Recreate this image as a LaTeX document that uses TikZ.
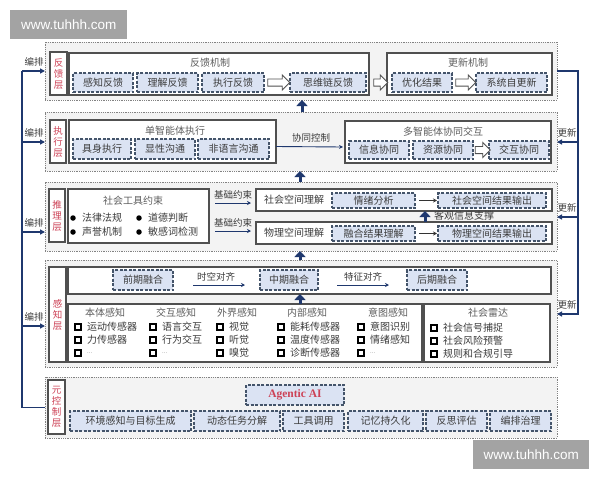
\documentclass[tikz,border=0pt]{standalone}
\usepackage{fontspec}
\setmainfont{Liberation Serif}
\newfontfamily\cjk{Noto Sans CJK SC}
\newfontfamily\wmfont{Liberation Sans}
\usetikzlibrary{arrows.meta,shapes.arrows,calc}
\definecolor{outfill}{RGB}{243,243,243}
\definecolor{outdraw}{RGB}{130,130,130}
\definecolor{boxdraw}{RGB}{80,80,80}
\definecolor{dfill}{RGB}{219,227,243}
\definecolor{ddraw}{RGB}{68,84,106}
\definecolor{txt}{RGB}{60,60,60}
\definecolor{ttlc}{RGB}{95,95,95}
\definecolor{lred}{RGB}{205,65,85}
\definecolor{navy}{RGB}{31,56,110}
\definecolor{wmgray}{RGB}{163,163,163}
\newcommand{\bx}[7]{\node[#1, anchor=north west, minimum width={(#5)-(#3)}, minimum height={(#6)-(#4)}] (#2) at (#3,#4) {#7};}
\newcommand{\li}[5]{\node[#1] (#2m) at (#3,#4) {}; \node[itm] (#2t) at (#3+9,#4) {#5};}
\newcommand{\eldots}{\textcolor{gray}{\fontsize{6}{7}\selectfont ...}}
\begin{document}
\begin{tikzpicture}[x=1pt,y=-1pt,
  outer/.style={draw=outdraw, fill=outfill, densely dotted, line width=0.8pt, inner sep=0pt, outer sep=0pt},
  labbox/.style={draw=boxdraw, fill=white, line width=1.2pt, inner sep=0pt, outer sep=0pt, text=lred, font=\cjk\fontsize{9.5}{11}\selectfont, align=center},
  wbox/.style={draw=boxdraw, fill=white, line width=1.1pt, inner sep=0pt, outer sep=0pt},
  dbox/.style={draw=ddraw, fill=dfill, dash pattern=on 3pt off 1.5pt, line width=1.2pt, inner sep=0pt, outer sep=0pt, text=txt, font=\cjk\fontsize{10}{12}\selectfont},
  ttl/.style={text=ttlc, font=\cjk\fontsize{10}{12}\selectfont, inner sep=0pt},
  lbl/.style={text=txt, font=\cjk\fontsize{9.5}{11}\selectfont, inner sep=0pt},
  itm/.style={text=txt, font=\cjk\fontsize{10}{12}\selectfont, inner sep=0pt, anchor=west},
  chk/.style={draw=black, line width=1.1pt, minimum size=6pt, inner sep=0pt},
  bul/.style={circle, fill=black, minimum size=5.5pt, inner sep=0pt},
  hollow/.style={single arrow, draw=boxdraw, fill=white, line width=0.8pt, inner xsep=0pt, inner ysep=3.2pt, single arrow head extend=4pt},
  narr/.style={draw=navy, line width=0.9pt, -{Stealth[length=4pt,width=4pt]}},
  garr/.style={draw=black!80, line width=0.9pt, -{Stealth[length=4pt,width=4pt]}},
  bigarr/.style={draw=navy, line width=3pt, -{Triangle[length=6pt,width=11pt]}},
  nline/.style={draw=navy, line width=1.6pt},
  narrow/.style={draw=navy, line width=1.6pt, -{Triangle[length=5pt,width=5pt]}},
  wm/.style={fill=wmgray, text=white, font=\wmfont\fontsize{13.5}{15}\selectfont, inner sep=0pt}
]
\fill[white] (0,0) rectangle (600,480);
\useasboundingbox (0,0) rectangle (600,480);

% watermarks
\bx{wm}{wm1}{10}{10}{127}{39}{www.tuhhh.com}
\bx{wm}{wm2}{473}{440}{589}{469}{www.tuhhh.com}

% ===== Layer 1: feedback
\bx{outer}{L1}{45}{42}{557}{100}{}
\bx{labbox}{lab1}{50}{52}{67}{95}{反\\馈\\层}
\bx{wbox}{fbc}{69}{53}{369}{95}{}
\node[ttl] (fbt) at (210,63) {反馈机制};
\bx{dbox}{fk1}{73}{73}{133}{92}{感知反馈}
\bx{dbox}{fk2}{137}{73}{198}{92}{理解反馈}
\bx{dbox}{fk3}{202}{73}{264}{92}{执行反馈}
\bx{dbox}{fk4}{290}{73}{366}{92}{思维链反馈}
\node[hollow, minimum height=22pt] (ha1) at ($(fk3.east)!0.5!(fk4.west)$) {};
\bx{wbox}{upc}{387}{53}{552}{95}{}
\node[ttl] (upt) at (468,63) {更新机制};
\bx{dbox}{up1}{392}{73}{452}{92}{优化结果}
\bx{dbox}{up2}{476}{73}{547}{92}{系统自更新}
\node[hollow, minimum height=14pt] (ha2) at ($(fk4.east)!0.5!(up1.west)$) {};
\node[hollow, minimum height=20pt] (ha3) at ($(up1.east)!0.5!(up2.west)$) {};

% ===== Layer 2: execution
\bx{outer}{L2}{45}{112}{557}{171}{}
\bx{labbox}{lab2}{50}{120}{66}{163}{执\\行\\层}
\bx{wbox}{sgl}{69}{120}{276}{163}{}
\node[ttl] (sglt) at (175,131) {单智能体执行};
\bx{dbox}{ex1}{73}{139}{131}{159}{具身执行}
\bx{dbox}{ex2}{135}{139}{195}{159}{显性沟通}
\bx{dbox}{ex3}{198}{139}{269}{159}{非语言沟通}
\bx{wbox}{mul}{345}{121}{551}{163}{}
\node[ttl] (mult) at (443,132) {多智能体协同交互};
\bx{dbox}{mc1}{349}{141}{409}{159}{信息协同}
\bx{dbox}{mc2}{413}{141}{473}{159}{资源协同}
\bx{dbox}{mc3}{489}{141}{549}{159}{交互协同}
\node[hollow, minimum height=15pt] (ha4) at ($(mc2.east)!0.5!(mc3.west)$) {};
\draw[narr] ($(sgl.east)+(0,5)$) -- ($(mul.west)+(-2,5)$);
\node[lbl] (xt) at (311,138) {协同控制};

% ===== Layer 3: reasoning
\bx{outer}{L3}{45}{182}{557}{251}{}
\bx{labbox}{lab3}{49}{189}{65}{242}{推\\理\\层}
\bx{wbox}{tool}{68}{189}{209}{243}{}
\node[ttl] (toolt) at (133,201) {社会工具约束};
\li{bul}{b1}{73}{218}{法律法规}
\li{bul}{b2}{139}{218}{道德判断}
\li{bul}{b3}{73}{232}{声誉机制}
\li{bul}{b4}{139}{232}{敏感词检测}
\bx{wbox}{soc}{256}{189}{552}{211}{}
\node[lbl, font=\cjk\fontsize{10}{12}\selectfont] (soct) at (294,200) {社会空间理解};
\bx{dbox}{em}{332}{193}{415}{208}{情绪分析}
\bx{dbox}{so1}{438}{193}{546}{208}{社会空间结果输出}
\bx{wbox}{phy}{256}{222}{552}{244}{}
\node[lbl, font=\cjk\fontsize{10}{12}\selectfont] (phyt) at (294,233) {物理空间理解};
\bx{dbox}{fu}{332}{226}{415}{241}{融合结果理解}
\bx{dbox}{po}{438}{226}{546}{241}{物理空间结果输出}
\draw[garr] ($(em.east)+(4,0)$) -- ($(so1.west)+(-1,0)$);
\draw[garr] ($(fu.east)+(4,0)$) -- ($(po.west)+(-1,0)$);
\node[lbl] (jc1) at (233,195) {基础约束};
\node[lbl] (jc2) at (233,223) {基础约束};
\draw[narr] ($(tool.east |- soc.west)+(6,3)$) -- ($(soc.west)+(-5,3)$);
\draw[narr] ($(tool.east |- phy.west)+(6,-2)$) -- ($(phy.west)+(-5,-2)$);
\coordinate (ox) at (425,0);
\draw[bigarr] (phy.north -| ox) -- (soc.south -| ox);
\node[lbl, font=\cjk\fontsize{10}{12}\selectfont] (kg) at (464,216) {客观信息支撑};

% ===== Layer 4: perception
\bx{outer}{L4}{45}{260}{557}{367}{}
\bx{labbox}{lab4}{49}{267}{66}{362}{感\\知\\层}
\bx{wbox}{fus}{68}{267}{551}{294}{}
\bx{dbox}{qi}{113}{270}{173}{290}{前期融合}
\bx{dbox}{zh}{260}{270}{318}{290}{中期融合}
\bx{dbox}{ho}{407}{270}{467}{290}{后期融合}
\node[lbl] (sk) at (216,277) {时空对齐};
\node[lbl] (tz) at (363,277) {特征对齐};
\draw[narr] ($(qi.east)+(20,5)$) -- ($(zh.west)+(-15,5)$);
\draw[narr] ($(zh.east)+(19,5)$) -- ($(ho.west)+(-18,5)$);
\bx{wbox}{sen}{68}{304}{422}{362}{}
\node[ttl] (h1) at (105,313) {本体感知};
\node[ttl] (h2) at (176,313) {交互感知};
\node[ttl] (h3) at (237,313) {外界感知};
\node[ttl] (h4) at (307,313) {内部感知};
\node[ttl] (h5) at (388,313) {意图感知};
\li{chk}{a1}{78}{327}{运动传感器}
\li{chk}{a2}{78}{340}{力传感器}
\li{chk}{a3}{78}{353}{\eldots}
\li{chk}{c1}{153}{327}{语言交互}
\li{chk}{c2}{153}{340}{行为交互}
\li{chk}{c3}{153}{353}{\eldots}
\li{chk}{e1}{220}{327}{视觉}
\li{chk}{e2}{220}{340}{听觉}
\li{chk}{e3}{220}{353}{嗅觉}
\li{chk}{n1}{281}{327}{能耗传感器}
\li{chk}{n2}{281}{340}{温度传感器}
\li{chk}{n3}{281}{353}{诊断传感器}
\li{chk}{y1}{361}{327}{意图识别}
\li{chk}{y2}{361}{340}{情绪感知}
\li{chk}{y3}{361}{353}{\eldots}
\bx{wbox}{rad}{424}{304}{550}{362}{}
\node[ttl] (radt) at (488,313) {社会雷达};
\li{chk}{r1}{434}{328}{社会信号捕捉}
\li{chk}{r2}{434}{341}{社会风险预警}
\li{chk}{r3}{434}{354}{规则和合规引导}
\coordinate (mx) at (300,0);
\draw[bigarr] (sen.north -| mx) -- (fus.south -| mx);

% ===== Layer 5: meta control
\bx{outer}{L5}{45}{377}{557}{438}{}
\bx{labbox}{lab5}{48}{380}{65}{434}{元\\控\\制\\层}
\bx{dbox}{ag}{246}{385}{344}{405}{}
\node[text=lred, font=\rmfamily\bfseries\fontsize{11.5}{13}\selectfont, inner sep=0pt] (agt) at (ag.center) {Agentic AI};
\bx{dbox}{m1}{70}{411}{191}{431}{环境感知与目标生成}
\bx{dbox}{m2}{194}{411}{280}{431}{动态任务分解}
\bx{dbox}{m3}{283}{411}{344}{431}{工具调用}
\bx{dbox}{m4}{348}{411}{423}{431}{记忆持久化}
\bx{dbox}{m5}{426}{411}{487}{431}{反思评估}
\bx{dbox}{m6}{490}{411}{551}{431}{编排治理}

% ===== inter-layer arrows
\coordinate (ux) at (302,0);
\draw[bigarr] (L2.north -| ux) -- (L1.south -| ux);
\coordinate (vx) at (300,0);
\draw[bigarr] (L3.north -| vx) -- (L2.south -| vx);
\draw[bigarr] (L4.north -| vx) -- (L3.south -| vx);

% ===== left orchestration line
\coordinate (l1) at (22,71);
\coordinate (l2) at (22,142);
\coordinate (l3) at (22,232);
\coordinate (l4) at (22,326);
\draw[nline] (L5.west) -- (L5.west -| l1) -- (l1);
\draw[narrow] (l1) -- (L1.west |- l1);
\draw[narrow] (l2) -- (L2.west |- l2);
\draw[narrow] (l3) -- (L3.west |- l3);
\draw[narrow] (l4) -- (L4.west |- l4);
\node[lbl] (bp1) at (34,62) {编排};
\node[lbl] (bp2) at (34,133) {编排};
\node[lbl] (bp3) at (34,223) {编排};
\node[lbl] (bp4) at (34,317) {编排};

% ===== right update line
\coordinate (rb) at (578,314);
\coordinate (r2) at (578,142);
\coordinate (r3) at (578,217);
\draw[narrow] (L1.east) -- (L1.east -| rb) -- (rb) -- (L4.east |- rb);
\draw[narrow] (r2) -- (L2.east |- r2);
\draw[narrow] (r3) -- (L3.east |- r3);
\node[lbl] (gx2) at (567,133) {更新};
\node[lbl] (gx3) at (567,208) {更新};
\node[lbl] (gx4) at (567,305) {更新};
\end{tikzpicture}
\end{document}
